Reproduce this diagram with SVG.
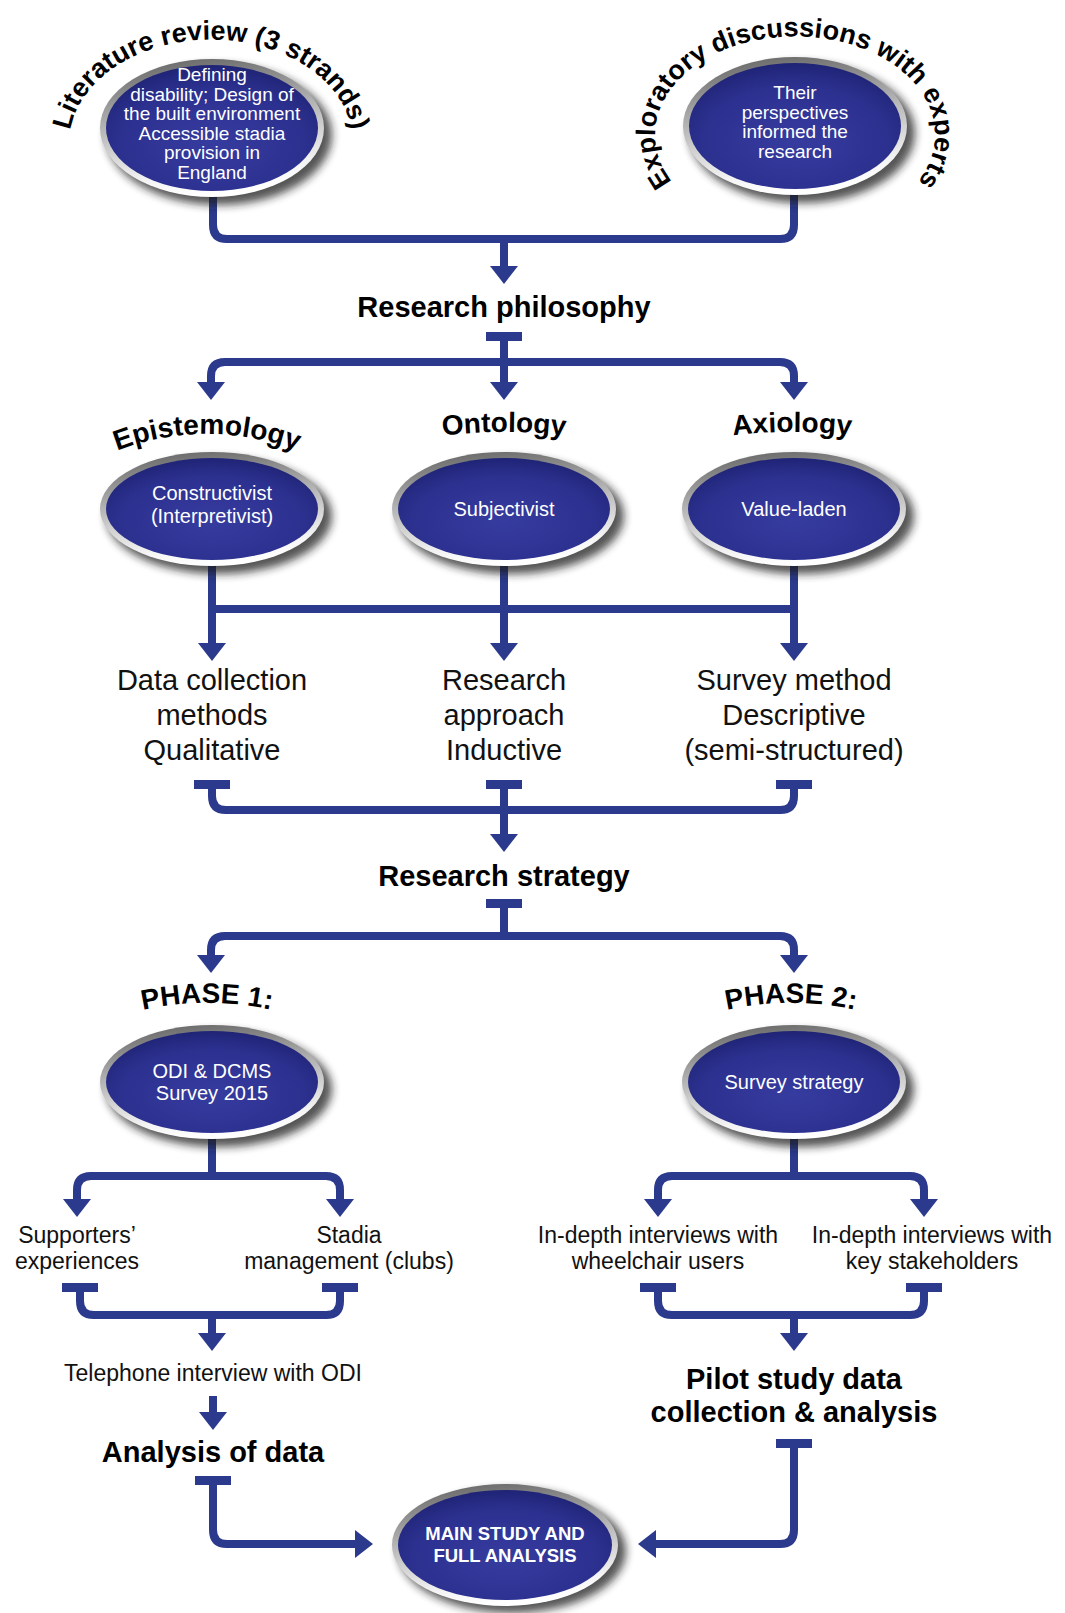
<svg xmlns="http://www.w3.org/2000/svg" xmlns:xlink="http://www.w3.org/1999/xlink" width="1065" height="1613" viewBox="0 0 1065 1613">
  <style>
    text { font-family: "Liberation Sans", Arial, sans-serif; }
    .ln { fill: none; stroke: #2b3a8c; stroke-width: 8; }
    .arr { marker-end: url(#ah); }
    .tb { fill: #2b3a8c; }
    .shadow { fill: #1e1e1e; opacity: 0.75; filter: url(#blur); }
    .rim { fill: url(#rimGrad); }
    .core { fill: url(#blueGrad); }
    .in { fill: #ffffff; text-anchor: middle; }
    .in1 { font-size: 19px; }
    .in2 { font-size: 20px; }
    .inb { font-size: 18.5px; font-weight: bold; }
    .body { fill: #111111; text-anchor: middle; font-size: 29px; }
    .small { fill: #111111; text-anchor: middle; font-size: 23px; }
    .head { fill: #000000; text-anchor: middle; font-size: 29px; font-weight: bold; }
    .arc { fill: #000000; font-weight: bold; }
  </style>
  <defs>
    <marker id="ah" viewBox="0 -14 18 28" refX="1" refY="0" markerWidth="18" markerHeight="28" markerUnits="userSpaceOnUse" orient="auto">
      <path d="M0,-14 L18,0 L0,14 Z" fill="#2b3a8c"/>
    </marker>
    <linearGradient id="rimGrad" x1="0.2" y1="0" x2="0.4" y2="1">
      <stop offset="0" stop-color="#666666"/>
      <stop offset="0.45" stop-color="#b5b5b5"/>
      <stop offset="0.85" stop-color="#f4f4f4"/>
      <stop offset="1" stop-color="#ffffff"/>
    </linearGradient>
    <radialGradient id="blueGrad" cx="0.5" cy="0.62" r="0.62">
      <stop offset="0" stop-color="#363b9f"/>
      <stop offset="0.7" stop-color="#2c3190"/>
      <stop offset="1" stop-color="#202476"/>
    </radialGradient>
    <filter id="blur" x="-20%" y="-20%" width="150%" height="160%">
      <feGaussianBlur stdDeviation="4"/>
    </filter>
    <!-- baselines for the curved labels -->
    <path id="arcLit" d="M 78,180 A 142,104 0 1 1 344,180"/>
    <path id="arcExp" d="M 696,204 A 140,98 0 1 1 894,204"/>
    <path id="arcEpi" d="M 97,459.5 A 250,250 0 0 1 317,459.5"/>
    <path id="arcOnt" d="M 404,442 A 500,500 0 0 1 604,442"/>
    <path id="arcAxi" d="M 692,442 A 500,500 0 0 1 892,442"/>
    <path id="arcPh1" d="M 107,1020 A 300,300 0 0 1 307,1020"/>
    <path id="arcPh2" d="M 691,1020 A 300,300 0 0 1 891,1020"/>
  </defs>

  <rect width="1065" height="1613" fill="#ffffff"/>

  <!-- connectors -->
  <g id="connectors">
    <path class="ln" d="M213,194 V225 Q213,239 227,239 H780 Q794,239 794,225 V192"/>
    <path class="ln arr" d="M504,239 V267"/>

    <rect class="tb" x="486" y="332" width="36" height="9"/>
    <path class="ln arr" d="M504,336 V383"/>
    <path class="ln arr" d="M504,362 H225 Q211,362 211,376 V383"/>
    <path class="ln arr" d="M504,362 H780 Q794,362 794,376 V383"/>

    <path class="ln arr" d="M212,560 V644"/>
    <path class="ln arr" d="M504,560 V644"/>
    <path class="ln arr" d="M794,560 V644"/>
    <path class="ln" d="M212,609 H794"/>

    <rect class="tb" x="194" y="780" width="36" height="9"/>
    <rect class="tb" x="486" y="780" width="36" height="9"/>
    <rect class="tb" x="776" y="780" width="36" height="9"/>
    <path class="ln" d="M212,784 V796 Q212,810 226,810 H780 Q794,810 794,796 V784"/>
    <path class="ln arr" d="M504,784 V835"/>

    <rect class="tb" x="486" y="899" width="36" height="9"/>
    <path class="ln" d="M504,903 V936"/>
    <path class="ln arr" d="M504,936 H225 Q211,936 211,950 V956"/>
    <path class="ln arr" d="M504,936 H780 Q794,936 794,950 V956"/>

    <path class="ln" d="M212,1130 V1176"/>
    <path class="ln arr" d="M212,1176 H91 Q77,1176 77,1190 V1200"/>
    <path class="ln arr" d="M212,1176 H326 Q340,1176 340,1190 V1200"/>
    <path class="ln" d="M794,1130 V1176"/>
    <path class="ln arr" d="M794,1176 H672 Q658,1176 658,1190 V1200"/>
    <path class="ln arr" d="M794,1176 H910 Q924,1176 924,1190 V1200"/>

    <rect class="tb" x="62" y="1283" width="36" height="9"/>
    <rect class="tb" x="322" y="1283" width="36" height="9"/>
    <rect class="tb" x="640" y="1283" width="36" height="9"/>
    <rect class="tb" x="906" y="1283" width="36" height="9"/>
    <path class="ln" d="M80,1287 V1301 Q80,1315 94,1315 H326 Q340,1315 340,1301 V1287"/>
    <path class="ln arr" d="M212,1315 V1334"/>
    <path class="ln" d="M658,1287 V1301 Q658,1315 672,1315 H910 Q924,1315 924,1301 V1287"/>
    <path class="ln arr" d="M794,1315 V1334"/>

    <path class="ln arr" d="M213,1396 V1413"/>

    <rect class="tb" x="195" y="1476" width="36" height="9"/>
    <path class="ln arr" d="M213,1480 V1530 Q213,1544 227,1544 H356"/>
    <rect class="tb" x="776" y="1439" width="36" height="9"/>
    <path class="ln arr" d="M794,1443 V1530 Q794,1544 780,1544 H655"/>
  </g>

  <!-- top: literature review -->
  <g id="node-literature">
    <ellipse class="shadow" cx="219" cy="135" rx="113" ry="70"/>
    <ellipse class="rim" cx="212" cy="128" rx="112" ry="69"/>
    <ellipse class="core" cx="212" cy="128" rx="106" ry="63"/>
    <text class="in in1" x="212" y="81">Defining</text>
    <text class="in in1" x="212" y="100.5">disability; Design of</text>
    <text class="in in1" x="212" y="120">the built environment</text>
    <text class="in in1" x="212" y="139.5">Accessible stadia</text>
    <text class="in in1" x="212" y="159">provision in</text>
    <text class="in in1" x="212" y="178.5">England</text>
    <text class="arc" font-size="27"><textPath xlink:href="#arcLit" href="#arcLit" startOffset="50%" text-anchor="middle">Literature review (3 strands)</textPath></text>
  </g>

  <!-- top: expert discussions -->
  <g id="node-experts">
    <ellipse class="shadow" cx="802" cy="133" rx="113" ry="70"/>
    <ellipse class="rim" cx="795" cy="126" rx="112" ry="69"/>
    <ellipse class="core" cx="795" cy="126" rx="106" ry="63"/>
    <text class="in in1" x="795" y="99">Their</text>
    <text class="in in1" x="795" y="118.5">perspectives</text>
    <text class="in in1" x="795" y="138">informed the</text>
    <text class="in in1" x="795" y="157.5">research</text>
    <text class="arc" font-size="27"><textPath xlink:href="#arcExp" href="#arcExp" startOffset="50%" text-anchor="middle">Exploratory discussions with experts</textPath></text>
  </g>

  <g id="node-philosophy">
    <text class="head" x="504" y="317">Research philosophy</text>
  </g>

  <g id="node-epistemology">
    <text class="arc" font-size="28"><textPath xlink:href="#arcEpi" href="#arcEpi" startOffset="50%" text-anchor="middle">Epistemology</textPath></text>
    <ellipse class="shadow" cx="219" cy="516" rx="113" ry="58"/>
    <ellipse class="rim" cx="212" cy="509" rx="112" ry="57"/>
    <ellipse class="core" cx="212" cy="509" rx="106" ry="51"/>
    <text class="in in2" x="212" y="500">Constructivist</text>
    <text class="in in2" x="212" y="523">(Interpretivist)</text>
  </g>

  <g id="node-ontology">
    <text class="arc" font-size="28"><textPath xlink:href="#arcOnt" href="#arcOnt" startOffset="50%" text-anchor="middle">Ontology</textPath></text>
    <ellipse class="shadow" cx="511" cy="516" rx="113" ry="58"/>
    <ellipse class="rim" cx="504" cy="509" rx="112" ry="57"/>
    <ellipse class="core" cx="504" cy="509" rx="106" ry="51"/>
    <text class="in in2" x="504" y="516">Subjectivist</text>
  </g>

  <g id="node-axiology">
    <text class="arc" font-size="28"><textPath xlink:href="#arcAxi" href="#arcAxi" startOffset="50%" text-anchor="middle">Axiology</textPath></text>
    <ellipse class="shadow" cx="801" cy="516" rx="113" ry="58"/>
    <ellipse class="rim" cx="794" cy="509" rx="112" ry="57"/>
    <ellipse class="core" cx="794" cy="509" rx="106" ry="51"/>
    <text class="in in2" x="794" y="516">Value-laden</text>
  </g>

  <g id="node-methods">
    <text class="body" x="212" y="690">Data collection</text>
    <text class="body" x="212" y="725">methods</text>
    <text class="body" x="212" y="760">Qualitative</text>
  </g>
  <g id="node-approach">
    <text class="body" x="504" y="690">Research</text>
    <text class="body" x="504" y="725">approach</text>
    <text class="body" x="504" y="760">Inductive</text>
  </g>
  <g id="node-survey-method">
    <text class="body" x="794" y="690">Survey method</text>
    <text class="body" x="794" y="725">Descriptive</text>
    <text class="body" x="794" y="760">(semi-structured)</text>
  </g>

  <g id="node-strategy">
    <text class="head" x="504" y="886">Research strategy</text>
  </g>

  <g id="node-phase1">
    <text class="arc" font-size="28"><textPath xlink:href="#arcPh1" href="#arcPh1" startOffset="50%" text-anchor="middle">PHASE 1:</textPath></text>
    <ellipse class="shadow" cx="219" cy="1089" rx="113" ry="58"/>
    <ellipse class="rim" cx="212" cy="1082" rx="112" ry="57"/>
    <ellipse class="core" cx="212" cy="1082" rx="106" ry="51"/>
    <text class="in in2" x="212" y="1078">ODI &amp; DCMS</text>
    <text class="in in2" x="212" y="1100">Survey 2015</text>
  </g>

  <g id="node-phase2">
    <text class="arc" font-size="28"><textPath xlink:href="#arcPh2" href="#arcPh2" startOffset="50%" text-anchor="middle">PHASE 2:</textPath></text>
    <ellipse class="shadow" cx="801" cy="1089" rx="113" ry="58"/>
    <ellipse class="rim" cx="794" cy="1082" rx="112" ry="57"/>
    <ellipse class="core" cx="794" cy="1082" rx="106" ry="51"/>
    <text class="in in2" x="794" y="1089">Survey strategy</text>
  </g>

  <g id="node-supporters">
    <text class="small" x="77" y="1243">Supporters’</text>
    <text class="small" x="77" y="1269">experiences</text>
  </g>
  <g id="node-clubs">
    <text class="small" x="349" y="1243">Stadia</text>
    <text class="small" x="349" y="1269">management (clubs)</text>
  </g>
  <g id="node-wheelchair">
    <text class="small" x="658" y="1243">In-depth interviews with</text>
    <text class="small" x="658" y="1269">wheelchair users</text>
  </g>
  <g id="node-stakeholders">
    <text class="small" x="932" y="1243">In-depth interviews with</text>
    <text class="small" x="932" y="1269">key stakeholders</text>
  </g>

  <g id="node-telephone">
    <text class="small" x="213" y="1381">Telephone interview with ODI</text>
  </g>
  <g id="node-analysis">
    <text class="head" x="213" y="1462">Analysis of data</text>
  </g>
  <g id="node-pilot">
    <text class="head" x="794" y="1389" font-size="28">Pilot study data</text>
    <text class="head" x="794" y="1422" font-size="28">collection &amp; analysis</text>
  </g>

  <g id="node-main">
    <ellipse class="shadow" cx="512" cy="1551" rx="114" ry="62"/>
    <ellipse class="rim" cx="505" cy="1545" rx="113" ry="61"/>
    <ellipse class="core" cx="505" cy="1545" rx="107" ry="55"/>
    <text class="in inb" x="505" y="1540">MAIN STUDY AND</text>
    <text class="in inb" x="505" y="1562">FULL ANALYSIS</text>
  </g>
</svg>
